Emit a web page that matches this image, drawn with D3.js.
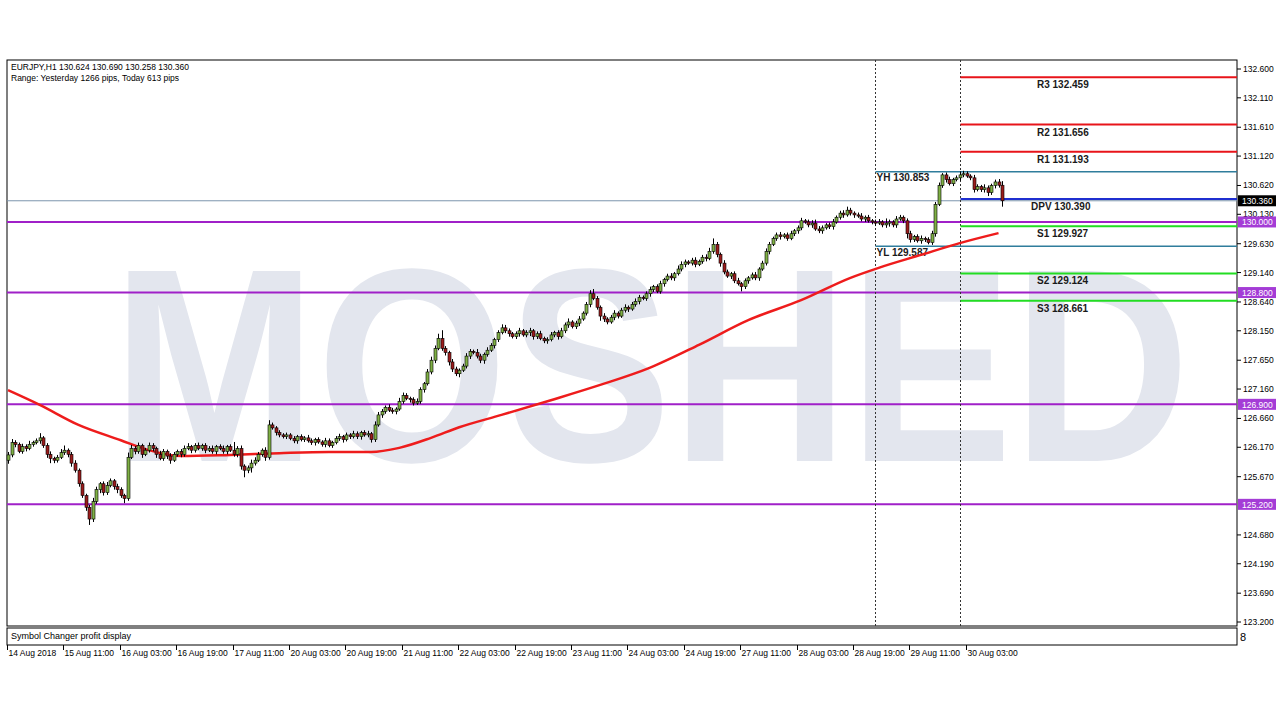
<!DOCTYPE html>
<html><head><meta charset="utf-8">
<script src="https://cdn.jsdelivr.net/npm/d3@7"></script>
<style>body{margin:0;background:#fff}svg{display:block}text{font-family:"Liberation Sans",Arial,sans-serif}</style>
</head><body><svg id="c" width="1280" height="720"></svg>
<script>
const closes=[126.04,126.25,126.22,126.10,126.18,126.15,126.22,126.25,126.28,126.33,
126.20,126.05,125.98,125.95,126.00,126.08,126.12,126.05,125.90,125.78,
125.55,125.35,125.15,124.95,125.25,125.45,125.55,125.40,125.52,125.60,
125.50,125.45,125.35,125.30,126.00,126.15,126.10,126.20,126.05,126.12,
126.20,126.15,126.05,125.98,126.10,126.02,125.95,126.05,126.10,126.05,
126.15,126.18,126.12,126.20,126.15,126.20,126.12,126.15,126.10,126.18,
126.15,126.10,126.18,126.12,126.05,126.15,125.85,125.78,125.82,125.90,
125.95,126.05,126.12,126.00,126.55,126.50,126.42,126.38,126.35,126.38,
126.32,126.28,126.35,126.30,126.33,126.28,126.25,126.30,126.26,126.22,
126.28,126.20,126.25,126.32,126.35,126.30,126.38,126.35,126.40,126.35,
126.42,126.38,126.40,126.30,126.55,126.72,126.78,126.85,126.80,126.78,
126.82,126.95,127.05,127.00,126.98,126.92,126.95,127.15,127.25,127.45,
127.65,127.85,128.02,127.85,127.78,127.62,127.50,127.42,127.48,127.55,
127.72,127.80,127.78,127.72,127.65,127.75,127.82,127.90,128.00,128.12,
128.20,128.15,128.10,128.05,128.10,128.15,128.08,128.12,128.15,128.05,
128.10,128.02,127.98,128.00,128.08,128.12,128.05,128.15,128.25,128.30,
128.22,128.28,128.35,128.45,128.60,128.78,128.70,128.55,128.40,128.35,
128.30,128.38,128.45,128.40,128.50,128.55,128.52,128.60,128.65,128.72,
128.70,128.78,128.85,128.90,128.82,128.95,129.02,129.08,129.05,129.12,
129.20,129.28,129.32,129.30,129.35,129.28,129.33,129.40,129.38,129.50,
129.62,129.45,129.30,129.15,129.08,129.12,129.00,128.95,128.90,129.00,
129.05,129.10,129.05,129.20,129.30,129.50,129.62,129.72,129.78,129.75,
129.78,129.72,129.80,129.85,129.90,130.02,130.00,129.95,129.98,129.88,
129.85,129.90,129.95,129.92,130.00,130.08,130.15,130.12,130.20,130.15,
130.12,130.10,130.05,130.08,130.02,130.00,129.98,130.00,129.95,129.98,
130.00,129.95,130.05,130.08,130.02,129.80,129.70,129.75,129.68,129.72,
129.70,129.65,129.80,130.30,130.62,130.80,130.72,130.65,130.72,130.75,
130.80,130.82,130.78,130.75,130.55,130.60,130.55,130.58,130.50,130.62,
130.68,130.624,130.360];
const firstOpen=125.95;
const wickUp=[5,6,4,3,5,4,6,3,4,8,3,4,5,3,4,6,8,3,4,5,3,4,3,4,6,5,3,4,6,4,3,5,4,3,8,6,4,5,3,4,
5,4,3,6,4,3,5,4,3,4,5,6,3,4,5,3,4,4,5,3,4,5,3,4,14,4,5,3,4,6,5,4,3,5,8,4,3,4,3,4,
3,4,3,4,3,5,4,3,4,3,5,4,3,4,5,3,4,3,5,4,3,4,5,3,6,5,4,3,5,4,3,6,5,4,3,4,5,4,3,5,
6,5,8,14,4,3,5,4,3,4,5,4,3,6,4,3,5,4,3,4,6,5,4,3,4,5,3,4,5,3,4,5,3,4,5,3,4,5,4,6,
3,4,5,3,4,6,8,4,3,5,3,4,5,3,4,5,3,4,5,4,3,4,5,3,4,5,3,4,5,3,6,5,4,3,4,5,3,4,5,6,
10,4,3,5,4,3,4,5,3,4,3,4,5,3,4,5,4,3,4,5,3,4,5,3,4,5,3,4,5,6,5,4,3,4,5,3,4,5,6,4,
3,4,5,3,4,3,4,5,3,8,4,3,5,4,3,4,5,3,4,5,3,4,5,4,5,3,4,5,3,4,6,5,4,3,5,4,3,6,4,3,
4,5,7];
const wickDn=[6,4,5,3,4,5,3,4,3,5,4,6,8,5,4,3,4,5,6,4,5,4,6,10,5,4,6,5,4,3,5,6,4,8,4,3,5,4,6,3,
4,5,6,3,4,5,6,3,4,5,4,3,5,4,3,4,5,3,4,5,3,4,5,3,4,5,6,12,5,8,4,3,4,6,4,3,5,4,3,4,
3,4,5,3,4,3,4,5,3,4,5,3,4,3,4,5,3,4,3,4,5,3,4,5,4,3,5,4,3,4,5,3,4,3,5,4,3,4,5,3,
4,5,3,4,5,6,5,4,6,3,4,5,3,4,5,6,4,3,5,4,3,4,5,3,4,5,3,4,6,5,4,3,4,5,3,4,5,3,4,5,
3,4,5,3,4,5,3,4,8,5,4,3,5,4,3,4,5,3,4,5,3,4,5,4,3,4,5,3,4,5,3,4,5,3,4,5,3,4,5,3,
4,5,6,4,3,5,4,3,8,4,5,3,4,5,3,4,5,3,4,5,3,4,3,4,5,4,3,4,5,3,4,5,3,4,5,3,4,5,3,4,
5,3,4,5,3,4,5,3,4,5,6,4,5,3,4,8,5,4,3,5,4,3,4,5,3,4,5,3,4,3,5,4,3,4,5,3,4,5,6,4,
5,4,10];
const maIdx=[0,9,20,32,40,49,63,77,91,103,111,120,128,140,154,168,182,196,210,225,239,247,259,270,281];
const maVal=[127.14,126.89,126.55,126.29,126.12,126.02,126.04,126.07,126.09,126.09,126.16,126.33,126.51,126.72,126.97,127.23,127.52,127.91,128.33,128.67,129.05,129.22,129.44,129.64,129.81];
const priceTicks=[132.600,132.110,131.610,131.120,130.620,130.130,129.630,129.140,128.640,128.150,127.650,127.160,126.660,126.170,125.670,124.680,124.190,123.690,123.200];
const keyLevels=[130.000,128.800,126.900,125.200];
const pivotNames=["R3","R2","R1","DPV","S1","S2","S3"];
const pivotVals=[132.459,131.656,131.193,130.390,129.927,129.124,128.661];
const pivotColors=["#e8141a","#e8141a","#e8141a","#1f2fd0","#22dd22","#22dd22","#22dd22"];
const yhYl=[["YH",130.853],["YL",129.587]];
const curPrice=130.360;
const timeLabels=["14 Aug 2018","15 Aug 11:00","16 Aug 03:00","16 Aug 19:00","17 Aug 11:00","20 Aug 03:00","20 Aug 19:00","21 Aug 11:00","22 Aug 03:00","22 Aug 19:00","23 Aug 11:00","24 Aug 03:00","24 Aug 19:00","27 Aug 11:00","28 Aug 03:00","28 Aug 19:00","29 Aug 11:00","30 Aug 03:00"];
const dayBreaks=[246,270];

const svg=d3.select("#c");
const L=7,R=1237,T=60,B=626;
const y=d3.scaleLinear().domain([123.2,132.6]).range([622,69]);
const x=d3.scaleLinear().domain([0,282]).range([8,8+282*3.525]);
const fmt=d3.format(".3f");

svg.append("text").attr("x",112).attr("y",461).attr("textLength",1078).attr("lengthAdjust","spacingAndGlyphs")
 .attr("font-size",276).attr("font-weight","bold").attr("fill","#e3e6ee").style("font-family","Liberation Sans,Arial").text("MOSHED");

svg.append("rect").attr("x",L).attr("y",T).attr("width",R-L).attr("height",B-T).attr("fill","none").attr("stroke","#000").attr("stroke-width",1);
svg.append("rect").attr("x",L).attr("y",628).attr("width",R-L).attr("height",17).attr("fill","none").attr("stroke","#000");
svg.append("text").attr("x",11).attr("y",639).attr("font-size",9).attr("fill","#000").text("Symbol Changer profit display");
svg.append("text").attr("x",1240).attr("y",641).attr("font-size",11).text("8");

svg.append("line").attr("x1",L).attr("x2",R).attr("y1",y(curPrice)).attr("y2",y(curPrice)).attr("stroke","#7d95ad").attr("stroke-width",1);
keyLevels.forEach(v=>{svg.append("line").attr("x1",L).attr("x2",R).attr("y1",y(v)).attr("y2",y(v)).attr("stroke","#a020c8").attr("stroke-width",2);});
const bx=dayBreaks.map(i=>Math.round(x(i))+0.5);
bx.forEach(xx=>{svg.append("line").attr("x1",xx).attr("x2",xx).attr("y1",T).attr("y2",B).attr("stroke","#333").attr("stroke-dasharray","2,2");});
yhYl.forEach(([n,v])=>{svg.append("line").attr("x1",bx[0]).attr("x2",R).attr("y1",y(v)).attr("y2",y(v)).attr("stroke","#2f7d9c").attr("stroke-width",1.5);
 svg.append("text").attr("x",bx[0]+1).attr("y",y(v)+(n=="YH"?9:10)).attr("font-size",10).attr("font-weight","bold").attr("fill","#1a1a1a").text(n+" "+fmt(v));});
pivotNames.forEach((n,k)=>{const v=pivotVals[k];svg.append("line").attr("x1",bx[1]).attr("x2",R).attr("y1",y(v)).attr("y2",y(v)).attr("stroke",pivotColors[k]).attr("stroke-width",2);
 svg.append("text").attr("x",n=="DPV"?1031:1037).attr("y",y(v)+11).attr("font-size",10).attr("font-weight","bold").attr("fill","#1a1a1a").text(n+" "+fmt(v));});

svg.append("path").datum(maIdx.map((d,k)=>[d,maVal[k]])).attr("d",d3.line().x(d=>x(d[0])).y(d=>y(d[1])).curve(d3.curveMonotoneX))
 .attr("fill","none").attr("stroke","#ee1c1c").attr("stroke-width",2.5);

const g=svg.append("g");
closes.forEach((c,i)=>{
 const o=i==0?firstOpen:closes[i-1];
 const hi=Math.max(o,c)+wickUp[i]/100, lo=Math.min(o,c)-wickDn[i]/100;
 const xx=Math.round(x(i))+0.5;
 g.append("line").attr("x1",xx).attr("x2",xx).attr("y1",y(hi)).attr("y2",y(lo)).attr("stroke","#000").attr("stroke-width",1);
 const top=y(Math.max(o,c)),h=Math.max(1,y(Math.min(o,c))-top);
 g.append("rect").attr("x",xx-1.5).attr("y",top).attr("width",3).attr("height",h)
  .attr("fill",c>=o?"#7fb045":"#9b1c1c").attr("stroke","#000").attr("stroke-width",0.6);
});

const ax=svg.append("g");
priceTicks.forEach(v=>{ax.append("line").attr("x1",R).attr("x2",R+4).attr("y1",y(v)).attr("y2",y(v)).attr("stroke","#000");
 ax.append("text").attr("x",R+6).attr("y",y(v)+3).attr("font-size",8.5).attr("fill","#000").text(fmt(v));});
keyLevels.forEach(v=>{ax.append("rect").attr("x",R+1).attr("y",y(v)-5.5).attr("width",38).attr("height",11).attr("fill","#a43cd6");
 ax.append("text").attr("x",R+5).attr("y",y(v)+3.5).attr("font-size",8.5).attr("fill","#fff").text(fmt(v));});
ax.append("rect").attr("x",R+1).attr("y",y(curPrice)-5.5).attr("width",38).attr("height",11).attr("fill","#000");
ax.append("text").attr("x",R+5).attr("y",y(curPrice)+3.5).attr("font-size",8.5).attr("fill","#fff").text(fmt(curPrice));

timeLabels.forEach((t,k)=>{const xx=Math.round(x(k*16))-0.5;
 svg.append("line").attr("x1",xx).attr("x2",xx).attr("y1",645).attr("y2",650).attr("stroke","#000");
 svg.append("text").attr("x",xx+1).attr("y",656).attr("font-size",8.5).attr("fill","#000").text(t);});

svg.append("text").attr("x",11).attr("y",70).attr("font-size",8.5).attr("fill","#000").text("EURJPY,H1  130.624 130.690 130.258 130.360");
svg.append("text").attr("x",11).attr("y",81).attr("font-size",8.5).attr("fill","#000").text("Range: Yesterday 1266 pips, Today 613 pips");
</script></body></html>
